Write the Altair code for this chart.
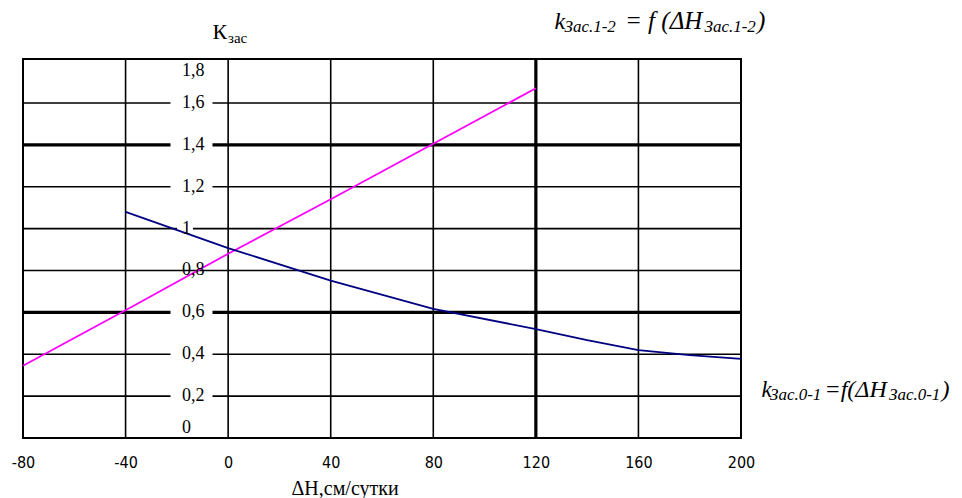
import altair as alt
import pandas as pd

# ---- data ----
pink_x = [-80, -40, 0, 40, 80, 120]
pink_y = [0.345, 0.61, 0.88, 1.14, 1.405, 1.67]

blue_x = [-40, 0, 40, 80, 120, 140, 160, 180, 200]
blue_y = [1.08, 0.907, 0.752, 0.617, 0.52, 0.467, 0.42, 0.396, 0.378]

x_ticks = [-80, -40, 0, 40, 80, 120, 160, 200]
grid_x_thin = [-40, 0, 40, 80, 160]
grid_x_bold = [120]
grid_y_thin = [0.2, 0.4, 0.8, 1.0, 1.2, 1.6]
grid_y_bold = [0.6, 1.4]

y_mid_vals = [0.2, 0.4, 0.6, 0.8, 1.0, 1.2, 1.4, 1.6]
y_mid_labels = ["0,2", "0,4", "0,6", "0,8", "1", "1,2", "1,4", "1,6"]
y_top_val, y_top_label = [1.8], ["1,8"]
y_bot_val, y_bot_label = [0.0], ["0"]
gap_vals_wide = [0.2, 0.4, 0.6, 1.2, 1.4, 1.6]
gap_vals_narrow = [1.0]

W, H = 718, 379
XD = [-80, 200]
YD = [0, 1.81]

xs = alt.Scale(domain=XD, nice=False, zero=False)
ys = alt.Scale(domain=YD, nice=False, zero=False)

SERIF = "Liberation Serif"
NARROW = "DejaVu Sans Condensed"

xaxis = alt.Axis(values=x_ticks, grid=False, domain=False, ticks=False, title=None,
                 labelFont=NARROW, labelFontSize=16, labelColor="black",
                 labelExpr="toString(datum.value)",
                 labelPadding=16, labelFlush=False, labelOverlap=False, labelBound=False)

def vrules(vals, w):
    return alt.Chart(pd.DataFrame({"x": vals})).mark_rule(color="black", strokeWidth=w).encode(
        x=alt.X("x:Q", scale=xs, axis=xaxis))

def hrules(vals, w):
    return alt.Chart(pd.DataFrame({"y": vals})).mark_rule(color="black", strokeWidth=w).encode(
        y=alt.Y("y:Q", scale=ys, axis=None))

box_shape = "M-1,-0.3L1,-0.3L1,0.3L-1,0.3Z"

def gaps(vals, xc, w):
    return alt.Chart(pd.DataFrame({"y": vals})).mark_point(
        shape=box_shape, filled=True, color="white", opacity=1, size=w * w, strokeWidth=0
    ).encode(x=alt.value(xc), y=alt.Y("y:Q", scale=ys, axis=None))

def ylabels(vals, labels, dy):
    return alt.Chart(pd.DataFrame({"y": vals, "t": labels})).mark_text(
        font=SERIF, fontSize=18, align="left", baseline="middle", dy=dy, color="black"
    ).encode(x=alt.value(159), y=alt.Y("y:Q", scale=ys, axis=None), text="t:N")

pink = alt.Chart(pd.DataFrame({"x": pink_x, "y": pink_y})).mark_line(
    color="#ff00ff", strokeWidth=1.8).encode(
    x=alt.X("x:Q", scale=xs, axis=xaxis),
    y=alt.Y("y:Q", scale=ys, axis=None))

blue = alt.Chart(pd.DataFrame({"x": blue_x, "y": blue_y})).mark_line(
    color="#000080", strokeWidth=1.8).encode(
    x=alt.X("x:Q", scale=xs, axis=xaxis),
    y=alt.Y("y:Q", scale=ys, axis=None))

def txt(s, x, y, size, italic=True, align="left"):
    return alt.Chart(pd.DataFrame({"t": [s]})).mark_text(
        font=SERIF, fontSize=size, fontStyle="italic" if italic else "normal",
        align=align, baseline="alphabetic", color="black"
    ).encode(x=alt.value(x), y=alt.value(y), text="t:N")

texts = [
    txt("К", 189.5, -20, 22, italic=False),
    txt("зас", 205, -16, 15, italic=False),
    txt("ΔН,см/сутки", 268.5, 436, 20, italic=False),
    # top annotation
    txt("k", 531.5, -30, 24),
    txt("Зас.1-2", 541.5, -27, 17),
    txt("= f (ΔH", 602, -30, 25),
    txt("Зас.1-2", 681.5, -27, 17),
    txt(")", 734, -30, 25),
    # right annotation
    txt("k", 738.5, 338, 23),
    txt("Зас.0-1", 747, 341, 17),
    txt("=f(ΔH", 801.5, 338, 24),
    txt("Зас.0-1", 866, 341, 17),
    txt(")", 918.5, 338, 24),
]

chart = alt.layer(
    vrules(grid_x_thin, 1.6),
    hrules(grid_y_thin, 1.6),
    vrules(grid_x_bold, 3.2),
    hrules(grid_y_bold, 3.2),
    gaps(gap_vals_wide, 168.5, 42),
    gaps(gap_vals_narrow, 162, 16),
    pink,
    blue,
    ylabels(y_mid_vals, y_mid_labels, 0),
    ylabels(y_top_val, y_top_label, 10),
    ylabels(y_bot_val, y_bot_label, -10),
    *texts,
).properties(
    width=W, height=H,
    autosize=alt.AutoSizeParams(type="none"),
    padding={"left": 23, "top": 59, "right": 221, "bottom": 60},
    background="white",
).configure_view(stroke="black", strokeWidth=2)

chart.save("out.html", embed_options={"renderer": "svg", "actions": False})
